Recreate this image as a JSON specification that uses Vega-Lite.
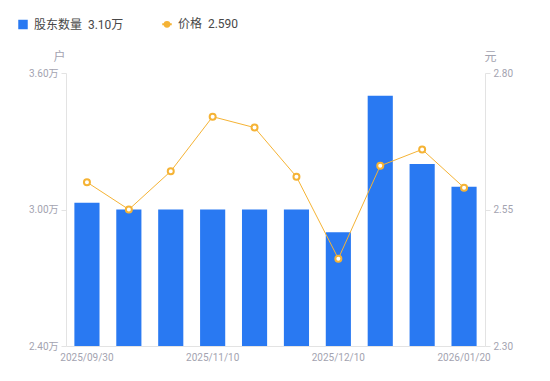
{
  "$schema": "https://vega.github.io/schema/vega-lite/v6.json",
  "width": 419,
  "height": 273,
  "autosize": {"type": "none"},
  "padding": {"left": 66, "top": 73, "right": 65, "bottom": 35},
  "config": {
    "font": "Roboto, 'Noto Sans CJK SC', sans-serif",
    "view": {"stroke": null},
    "axis": {
      "grid": false,
      "domainColor": "#e3e3e3",
      "tickColor": "#e3e3e3",
      "labelColor": "#a3a3b0",
      "labelFontSize": 10,
      "titleColor": "#a3a3b0",
      "titleFontWeight": "normal",
      "titleFontSize": 12
    }
  },
  "data": {
    "values": [
      {"date": "2025/09/30", "holders": 3.03, "price": 2.60},
      {"date": "2025/10/10", "holders": 3.00, "price": 2.55},
      {"date": "2025/10/20", "holders": 3.00, "price": 2.62},
      {"date": "2025/11/10", "holders": 3.00, "price": 2.72},
      {"date": "2025/11/20", "holders": 3.00, "price": 2.70},
      {"date": "2025/11/30", "holders": 3.00, "price": 2.61},
      {"date": "2025/12/10", "holders": 2.90, "price": 2.46},
      {"date": "2025/12/20", "holders": 3.50, "price": 2.63},
      {"date": "2025/12/31", "holders": 3.20, "price": 2.66},
      {"date": "2026/01/20", "holders": 3.10, "price": 2.59}
    ]
  },
  "encoding": {
    "x": {
      "field": "date",
      "type": "ordinal",
      "sort": null,
      "scale": {"paddingInner": 0.4, "paddingOuter": 0.2},
      "axis": {
        "title": null,
        "values": ["2025/09/30", "2025/11/10", "2025/12/10", "2026/01/20"],
        "labelAngle": 0,
        "ticks": false,
        "labelPadding": 6
      }
    }
  },
  "layer": [
    {
      "mark": {"type": "bar", "clip": true},
      "encoding": {
        "y": {
          "field": "holders",
          "type": "quantitative",
          "scale": {"domain": [2.4, 3.6], "zero": false, "nice": false},
          "axis": {
            "orient": "left",
            "values": [2.4, 3.0, 3.6],
            "labelExpr": "format(datum.value, '.2f') + '万'",
            "title": "户",
            "titleAngle": 0,
            "titleX": -7,
            "titleY": -10,
            "titleAlign": "center",
            "titleBaseline": "bottom",
            "tickSize": 5,
            "labelPadding": 3
          }
        },
        "color": {
          "datum": "股东数量",
          "type": "nominal",
          "scale": {"domain": ["股东数量", "价格"], "range": ["#2979F2", "#F5B335"]},
          "legend": {
            "title": null,
            "orient": "none",
            "legendX": -49,
            "legendY": -55,
            "direction": "horizontal",
            "labelFontSize": 12,
            "labelColor": "#484848",
            "labelOffset": 5,
            "columnPadding": 34,
            "symbolSize": 90,
            "labelExpr": "datum.label === '股东数量' ? '股东数量\u00a0\u00a03.10万' : '价格\u00a0\u00a02.590'",
            "encode": {
              "symbols": {
                "update": {
                  "shape": {"signal": "datum.value === '价格' ? 'M-1,0L-0.5,0M0.5,0L1,0M0.5,0A0.5,0.5,0,1,1,-0.5,0A0.5,0.5,0,1,1,0.5,0' : 'square'"},
                  "fill": {"signal": "datum.value === '价格' ? '#ffffff' : '#2979F2'"},
                  "stroke": {"signal": "datum.value === '价格' ? '#F5B335' : '#2979F2'"},
                  "strokeWidth": {"signal": "datum.value === '价格' ? 2 : 0"},
                  "opacity": {"value": 1}
                }
              }
            }
          }
        }
      }
    },
    {
      "encoding": {
        "y": {
          "field": "price",
          "type": "quantitative",
          "scale": {"domain": [2.3, 2.8], "zero": false, "nice": false},
          "axis": {
            "orient": "right",
            "values": [2.3, 2.55, 2.8],
            "format": ".2f",
            "title": "元",
            "titleAngle": 0,
            "titleX": 5,
            "titleY": -10,
            "titleAlign": "center",
            "titleBaseline": "bottom",
            "tickSize": 5,
            "labelPadding": 3
          }
        },
        "color": {"datum": "价格", "type": "nominal"}
      },
      "layer": [
        {"mark": {"type": "line", "strokeWidth": 1}},
        {"mark": {"type": "point", "filled": false, "fill": "#ffffff", "size": 36, "strokeWidth": 2, "opacity": 1}}
      ]
    }
  ],
  "resolve": {"scale": {"y": "independent"}}
}
